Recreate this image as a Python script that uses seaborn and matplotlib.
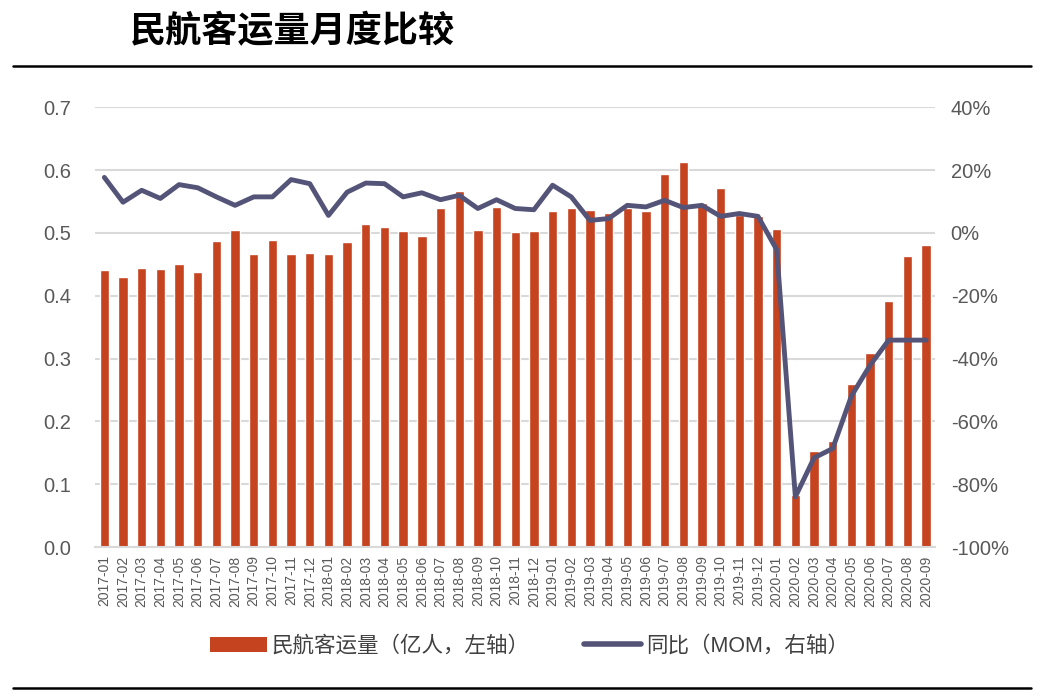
import numpy as np
import pandas as pd
import matplotlib
matplotlib.use("Agg")
import matplotlib.pyplot as plt
import seaborn as sns
from matplotlib.patches import Patch
from matplotlib.lines import Line2D
from matplotlib.ticker import FuncFormatter

sns.set_theme(style="white")
plt.rcParams['font.family'] = ['Liberation Sans', 'Noto Sans CJK SC', 'DejaVu Sans']

months = [f"{y}-{m:02d}" for y in (2017, 2018, 2019) for m in range(1, 13)] + \
         [f"2020-{m:02d}" for m in range(1, 10)]

passengers = [0.441, 0.430, 0.444, 0.442, 0.451, 0.438, 0.487, 0.505, 0.467, 0.489, 0.466, 0.468,
              0.466, 0.486, 0.515, 0.509, 0.503, 0.495, 0.539, 0.567, 0.504, 0.541, 0.502, 0.503,
              0.535, 0.540, 0.536, 0.532, 0.539, 0.535, 0.594, 0.613, 0.548, 0.571, 0.528, 0.527,
              0.507, 0.083, 0.153, 0.169, 0.260, 0.309, 0.392, 0.463, 0.481]

yoy = [17.7, 9.8, 13.6, 11.0, 15.4, 14.4, 11.5, 8.8, 11.5, 11.5, 17.0, 15.7,
       5.6, 13.0, 15.9, 15.7, 11.5, 12.8, 10.6, 12.0, 7.8, 10.6, 7.8, 7.4,
       15.2, 11.5, 4.0, 4.6, 8.8, 8.3, 10.4, 8.1, 8.8, 5.3, 6.2, 5.3,
       -5.3, -84.0, -71.6, -68.6, -51.9, -42.1, -34.1, -34.1, -34.1]

bar_label = "民航客运量（亿人，左轴）"
line_label = "同比（MOM，右轴）"
title = "民航客运量月度比较"

bar_color = "#C5431F"
line_color = "#545478"
text_color = "#595959"

df = pd.DataFrame({"month": months, "passengers": passengers, "yoy": yoy})
df["idx"] = np.arange(len(df))

fig = plt.figure(figsize=(10.44, 6.97), dpi=100)
ax = fig.add_axes([0.091, 0.215, 0.805, 0.631])

sns.barplot(data=df, x="month", y="passengers", color=bar_color, width=0.5,
            saturation=1, ax=ax, zorder=2)
ax.set_ylim(0, 0.7)
ax.set_yticks(np.arange(0, 0.71, 0.1))
ax.yaxis.set_major_formatter(FuncFormatter(lambda v, p: f"{v:.1f}"))
ax.set_xlim(-0.5, len(df) - 0.5)
ax.grid(axis="y", color="#D9D9D9", linewidth=1.5, zorder=0)
ax.set_axisbelow(True)
ax.set_xlabel("")
ax.set_ylabel("")
ax.tick_params(axis="x", labelrotation=90, labelsize=10, colors=text_color, length=0, pad=6)
ax.tick_params(axis="y", labelsize=14.5, colors=text_color, length=0, pad=17)
for s in ax.spines.values():
    s.set_visible(False)
ax.spines["bottom"].set_visible(True)
ax.spines["bottom"].set_color("#D9D9D9")
ax.spines["bottom"].set_linewidth(1.5)

ax2 = ax.twinx()
sns.lineplot(data=df, x="idx", y="yoy", color=line_color, linewidth=3.5, ax=ax2,
             solid_capstyle="round", solid_joinstyle="round")
ax2.set_ylim(-100, 40)
ax2.set_yticks(np.arange(-100, 41, 20))
ax2.yaxis.set_major_formatter(FuncFormatter(lambda v, p: f"{int(v)}%"))
ax2.set_xlim(-0.5, len(df) - 0.5)
ax2.set_ylabel("")
ax2.set_xlabel("")
ax2.tick_params(axis="y", labelsize=14.5, colors=text_color, length=0, pad=11)
for s in ax2.spines.values():
    s.set_visible(False)
ax2.grid(False)

fig.text(0.124, 0.955, title, fontsize=26, fontweight="bold", color="black",
         family=['Noto Sans CJK SC', 'DejaVu Sans'], va="center", ha="left")
fig.add_artist(Line2D([0.012, 0.988], [0.905, 0.905], color="black", linewidth=1.8,
                      transform=fig.transFigure))
fig.add_artist(Line2D([0.012, 0.988], [0.013, 0.013], color="black", linewidth=1.8,
                      transform=fig.transFigure))

handles = [Patch(facecolor=bar_color, edgecolor="none"),
           Line2D([0], [0], color=line_color, linewidth=4, solid_capstyle="round")]
leg = fig.legend(handles, [bar_label, line_label], loc="center", bbox_to_anchor=(0.507, 0.073),
                 ncol=2, frameon=False, handlelength=2.65, handleheight=0.7,
                 columnspacing=2.5, handletextpad=0.25,
                 prop={"family": ['Liberation Sans', 'Noto Sans CJK SC'], "size": 15.5})
for t in leg.get_texts():
    t.set_color("#404040")

fig.savefig("out.png", dpi=100, facecolor="white")
